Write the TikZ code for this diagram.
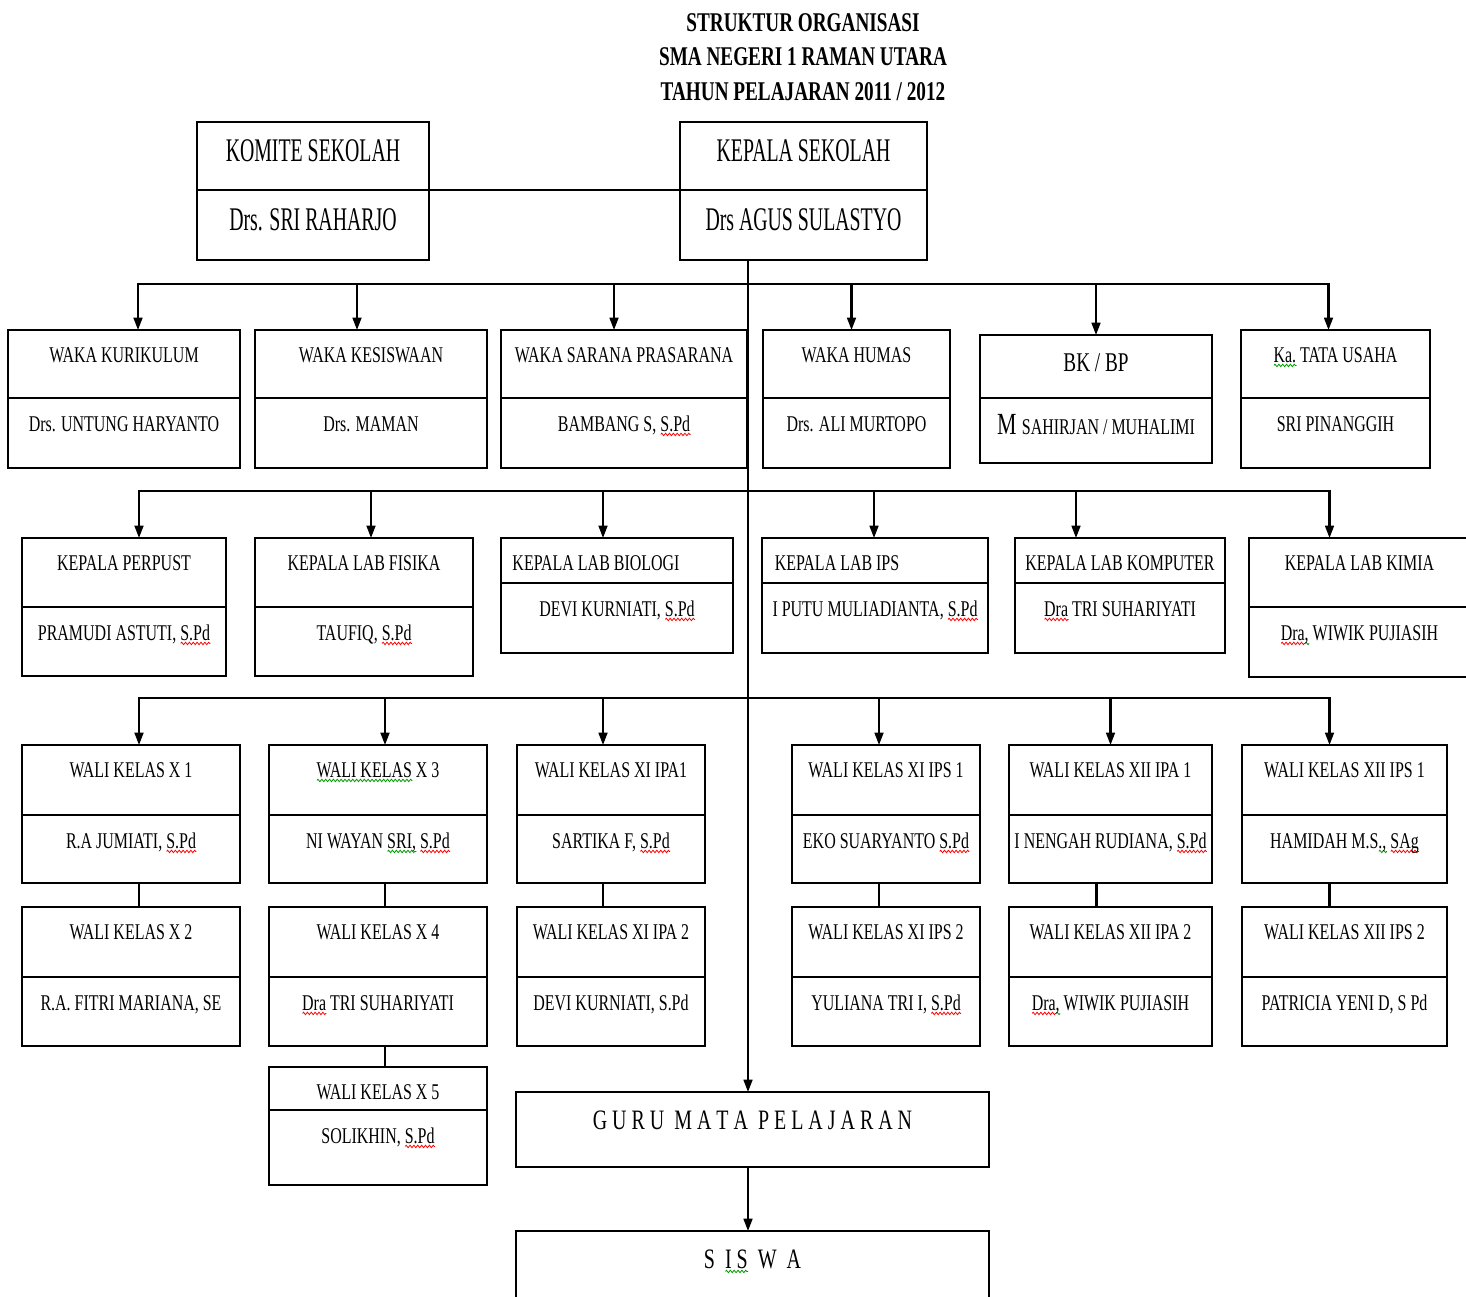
\documentclass[tikz,border=0pt]{standalone}
\usepackage{fontspec}
\setmainfont{Liberation Serif}[FakeStretch=0.71]
\newfontfamily\sempit{Liberation Serif}[FakeStretch=0.6]
\usetikzlibrary{calc,arrows.meta,decorations.pathmorphing}

% wavy spell-check marks under a word
\newcommand{\salah}[2]{\setbox0\hbox{#2}\rlap{\raisebox{-2.6pt}{\tikz\draw[#1, line width=0.45pt, decorate, decoration={zigzag, segment length=2.2pt, amplitude=0.7pt}] (0pt,0pt) -- (\the\wd0,0pt);}}\box0\relax}
\newcommand{\merah}[1]{\salah{red}{#1}}
\newcommand{\hijau}[1]{\salah{green!60!black}{#1}}

\tikzset{
    part/.style={draw, line width=1.3pt, inner sep=0pt, outer sep=0pt, anchor=north west},
    jabatan/.style={font=\fontsize{12.8}{14}\selectfont, inner sep=0pt, text height=8.5pt, text depth=0pt},
    nama/.style={jabatan},
    judul/.style={font=\bfseries\fontsize{15.4}{19.6}\selectfont, align=center, inner sep=0pt},
    garis/.style={line width=1.2pt},
    panah/.style={garis, -{Triangle[length=7pt,width=5pt]}}
}

% box with title part and name part: [title shift]{id}{x1}{y1}{ydiv}{y2}{x2}{title}{name}
\newcommand{\orgbox}[9][0]{%
    \node[part, minimum width={(#7-#3)*0.02cm}, minimum height={(#5-#4)*0.02cm}] (#2) at (#3,#4) {};
    \node[part, minimum width={(#7-#3)*0.02cm}, minimum height={(#6-#5)*0.02cm}] (#2n) at (#3,#5) {};
    \node[jabatan] (#2t) at ($(#2.north)+(#1,\toff)$) {#8};
    \node[nama] (#2p) at ($(#2n.north)+(0,\noff)$) {#9};
}

\begin{document}
\begin{tikzpicture}[x=0.02cm, y=-0.02cm]
    \useasboundingbox (0,0) rectangle (1466,1296);
    \clip (0,0) rectangle (1466,1296);
    \def\toff{25} % title offset from top
    \def\noff{26} % name offset from divider

    % Title
    \node[judul] (judul) at (803,57) {STRUKTUR ORGANISASI\\SMA NEGERI 1 RAMAN UTARA\\TAHUN PELAJARAN 2011 / 2012};

    % Komite and kepala sekolah
    \begin{scope}[jabatan/.style={font=\sempit\fontsize{18.8}{20}\selectfont, inner sep=0pt, text height=12.4pt, text depth=0pt}]
        \def\toff{29}\def\noff{30}
        \orgbox{kom}{197}{122}{190}{260}{429}{KOMITE SEKOLAH}{Drs. SRI RAHARJO}
        \orgbox{kep}{680}{122}{190}{260}{927}{KEPALA SEKOLAH}{Drs AGUS SULASTYO}
    \end{scope}
    \draw[garis] (kom.south east) -- (kep.south west);

    % Wakil kepala, BK and TU
    \orgbox{kur}{8}{330}{398}{468}{240}{WAKA KURIKULUM}{Drs. UNTUNG HARYANTO}
    \orgbox{kes}{255}{330}{398}{468}{487}{WAKA KESISWAAN}{Drs. MAMAN}
    \orgbox{sar}{501}{330}{398}{468}{747}{WAKA SARANA PRASARANA}{BAMBANG S, \merah{S.Pd}}
    \orgbox{hum}{763}{330}{398}{468}{950}{WAKA HUMAS}{Drs. ALI MURTOPO}
    \begin{scope}
        \def\toff{29}\def\noff{29}
        \orgbox{bk}{980}{335}{398}{463}{1212}{\fontsize{15.4}{16}\selectfont BK / BP}{\fontsize{17.5}{18}\selectfont M {\fontsize{12.8}{14}\selectfont SAHIRJAN / MUHALIMI}}
    \end{scope}
    \orgbox{tu}{1241}{330}{398}{468}{1430}{\hijau{Ka.} TATA USAHA}{SRI PINANGGIH}

    % Kepala perpustakaan and laboratorium
    \orgbox{per}{22}{538}{607}{676}{226}{KEPALA PERPUST}{PRAMUDI ASTUTI, \merah{S.Pd}}
    \orgbox{fis}{255}{538}{607}{676}{473}{KEPALA LAB FISIKA}{TAUFIQ, \merah{S.Pd}}
    \orgbox[-21]{bio}{501}{538}{583}{653}{733}{KEPALA LAB BIOLOGI}{DEVI KURNIATI, \merah{S.Pd}}
    \orgbox[-38]{ips}{762}{538}{583}{653}{988}{KEPALA LAB IPS}{I PUTU MULIADIANTA, \merah{S.Pd}}
    \orgbox{kom2}{1015}{538}{583}{653}{1225}{KEPALA LAB KOMPUTER}{\merah{Dra} TRI SUHARIYATI}
    \orgbox{kim}{1249}{538}{607}{677}{1470}{KEPALA LAB KIMIA}{\merah{Dra}\hijau{,} WIWIK PUJIASIH}

    % Wali kelas
    \orgbox{xa}{22}{745}{815}{883}{240}{WALI KELAS X 1}{R.A JUMIATI, \merah{S.Pd}}
    \orgbox{xb}{22}{907}{977}{1046}{240}{WALI KELAS X 2}{R.A. FITRI MARIANA, SE}
    \orgbox{xc}{269}{745}{815}{883}{487}{\hijau{WALI KELAS} X 3}{NI WAYAN \hijau{SRI,} \merah{S.Pd}}
    \orgbox{xd}{269}{907}{977}{1046}{487}{WALI KELAS X 4}{\merah{Dra} TRI SUHARIYATI}
    \orgbox{xe}{269}{1067}{1110}{1185}{487}{WALI KELAS X 5}{SOLIKHIN, \merah{S.Pd}}
    \orgbox{xia}{517}{745}{815}{883}{705}{WALI KELAS XI IPA1}{SARTIKA F, \merah{S.Pd}}
    \orgbox{xib}{517}{907}{977}{1046}{705}{WALI KELAS XI IPA 2}{DEVI KURNIATI, S.Pd}
    \orgbox{xsa}{792}{745}{815}{883}{980}{WALI KELAS XI IPS 1}{EKO SUARYANTO \merah{S.Pd}}
    \orgbox{xsb}{792}{907}{977}{1046}{980}{WALI KELAS XI IPS 2}{YULIANA TRI I, \merah{S.Pd}}
    \orgbox{xiia}{1009}{745}{815}{883}{1212}{WALI KELAS XII IPA 1}{I NENGAH RUDIANA, \merah{S.Pd}}
    \orgbox{xiib}{1009}{907}{977}{1046}{1212}{WALI KELAS XII IPA 2}{\merah{Dra}\hijau{,} WIWIK PUJIASIH}
    \orgbox{xiic}{1242}{745}{815}{883}{1447}{WALI KELAS XII IPS 1}{HAMIDAH M.S\hijau{.,} \merah{SAg}}
    \orgbox{xiid}{1242}{907}{977}{1046}{1447}{WALI KELAS XII IPS 2}{PATRICIA YENI D, S Pd}

    % Guru and siswa
    \node[part, minimum width={473*0.02cm}, minimum height={75*0.02cm}] (guru) at (516,1092) {};
    \node[jabatan, font=\fontsize{16}{18}\selectfont] (gurut) at ($(guru.north)+(0,30)$) {G U R U \ M A T A \ P E L A J A R A N};
    \node[part, minimum width={473*0.02cm}, minimum height={90*0.02cm}] (siswa) at (516,1231) {};
    \node[jabatan, font=\fontsize{16}{18}\selectfont] (siswat) at ($(siswa.north)+(0,30)$) {S \ \hijau{I S} \ W \ A};

    % Connectors
    \coordinate (t0) at (748,260);
    \coordinate (bus1) at (748,284);
    \coordinate (bus2) at (748,491);
    \coordinate (bus3) at (748,698);
    \draw[panah] (t0) -- (t0 |- guru.north);
    \draw[panah] (t0 |- guru.south) -- (t0 |- siswa.north);
    \foreach \kotak/\dx in {kur/14, kes/-14, sar/-10, hum/-5, bk/0, tu/-7}
        \draw[panah] (bus1) -| ($(\kotak.north)+(\dx,0)$);
    \foreach \kotak/\dx in {per/15, fis/7, bio/-14, ips/-1, kom2/-44, kim/-30}
        \draw[panah] (bus2) -| ($(\kotak.north)+(\dx,0)$);
    \foreach \kotak/\dx in {xa/8, xc/7, xia/-8, xsa/-7, xiia/0, xiic/-15}
        \draw[panah] (bus3) -| ($(\kotak.north)+(\dx,0)$);
    % pairs of wali kelas
    \foreach \atas/\bawah/\dx in {xan/xb/8, xcn/xd/7, xdn/xe/7, xian/xib/-8, xsan/xsb/-7, xiian/xiib/-14, xiicn/xiid/-15}
        \draw[garis] ($(\atas.south)+(\dx,0)$) -- ($(\bawah.north)+(\dx,0)$);

\end{tikzpicture}
\end{document}
